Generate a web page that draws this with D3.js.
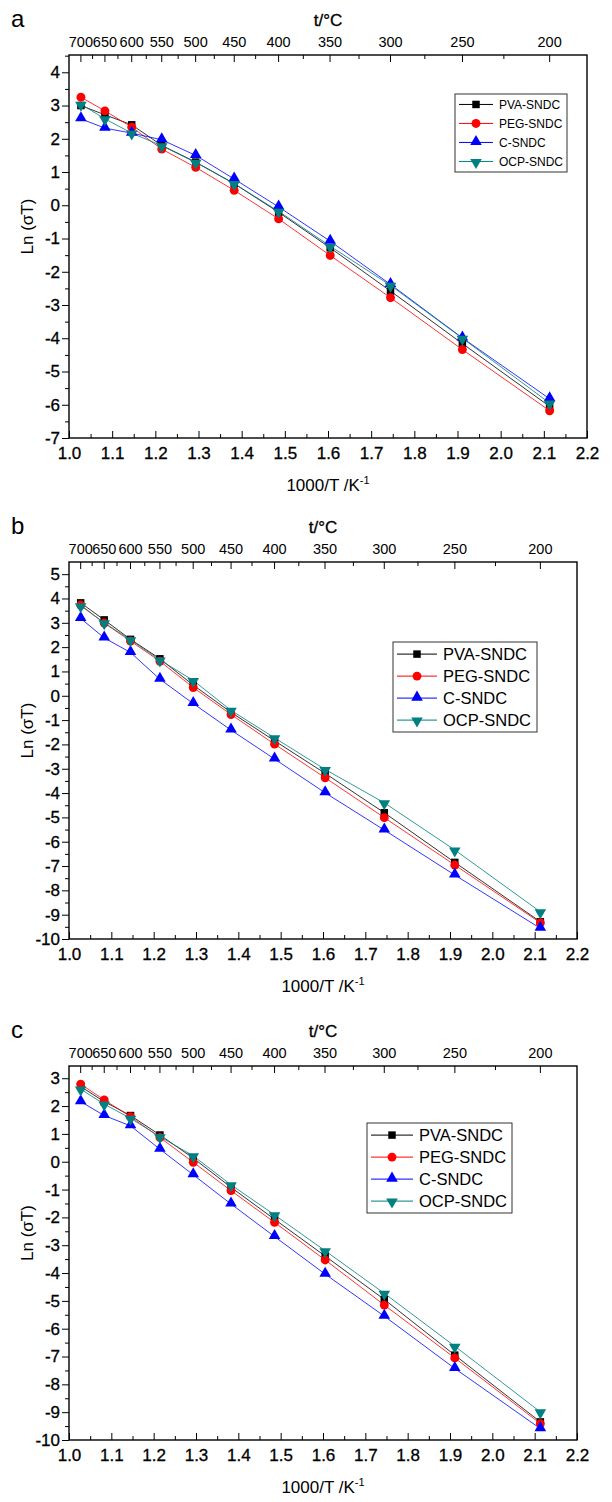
<!DOCTYPE html>
<html>
<head>
<meta charset="utf-8">
<script src="https://cdn.jsdelivr.net/npm/d3@7"></script>
<style>
  body { margin: 0; background: #fff; }
  text { font-family: "Liberation Sans", Arial, sans-serif; fill: #000; }
  .heavy { stroke: #000; stroke-width: 0.3px; }
</style>
</head>
<body>
<svg id="fig" width="612" height="1502"></svg>
<script>
// 1000/T of the measuring temperatures (700 ... 200 °C)
var invT = [1.0276, 1.0832, 1.1453, 1.2148, 1.2935, 1.3827, 1.4856, 1.6051, 1.7448, 1.9113, 2.1134];
var names = ["PVA-SNDC", "PEG-SNDC", "C-SNDC", "OCP-SNDC"];
var colors = ["#000000", "#ff0000", "#0000ff", "#008080"];
var tempLabels = [700, 650, 600, 550, 500, 450, 400, 350, 300, 250, 200];
var tempMinor = [675, 625, 575, 525, 475, 425, 375, 325, 275, 225];

// panel a
var pvaA = [3.00, 2.72, 2.42, 1.80, 1.30, 0.65, -0.21, -1.28, -2.58, -4.16, -6.05];
var pegA = [3.25, 2.84, 2.35, 1.69, 1.14, 0.45, -0.41, -1.51, -2.78, -4.34, -6.18];
var cA   = [2.60, 2.32, 2.17, 1.97, 1.50, 0.79, -0.05, -1.08, -2.38, -3.99, -5.82];
var ocpA = [3.04, 2.60, 2.17, 1.79, 1.29, 0.65, -0.18, -1.23, -2.41, -4.00, -5.95];
// panel b
var pvaB = [3.82, 3.12, 2.32, 1.52, 0.44, -0.68, -1.85, -3.19, -4.81, -6.85, -9.29];
var pegB = [3.73, 2.99, 2.25, 1.42, 0.34, -0.77, -1.99, -3.37, -5.01, -6.96, -9.33];
var cB   = [3.18, 2.38, 1.78, 0.68, -0.32, -1.41, -2.60, -3.99, -5.52, -7.37, -9.56];
var ocpB = [3.70, 3.00, 2.30, 1.47, 0.63, -0.60, -1.73, -3.03, -4.40, -6.34, -8.88];
// panel c
var pvaC = [2.70, 2.16, 1.66, 0.96, 0.13, -0.92, -2.07, -3.39, -4.95, -6.95, -9.35];
var pegC = [2.79, 2.22, 1.62, 0.87, -0.02, -1.04, -2.18, -3.53, -5.15, -7.05, -9.41];
var cC   = [2.16, 1.66, 1.29, 0.45, -0.47, -1.52, -2.69, -4.04, -5.55, -7.43, -9.59];
var ocpC = [2.61, 2.07, 1.56, 0.90, 0.21, -0.83, -1.91, -3.20, -4.73, -6.63, -8.99];

var xTicks = [1.0, 1.1, 1.2, 1.3, 1.4, 1.5, 1.6, 1.7, 1.8, 1.9, 2.0, 2.1, 2.2];

var panels = [
  { letter: "a", series: [pvaA, pegA, cA, ocpA], top: 55, bottom: 438, left: 69, right: 587,
    yMin: -7, yMax: 4.52, leg: { x: 455, y: 94, w: 112, row: 19, font: 12, seg: 34 } },
  { letter: "b", series: [pvaB, pegB, cB, ocpB], top: 562, bottom: 939, left: 69, right: 577,
    yMin: -10, yMax: 5.5, leg: { x: 393, y: 642, w: 144, row: 22, font: 16.5, seg: 40 } },
  { letter: "c", series: [pvaC, pegC, cC, ocpC], top: 1066, bottom: 1440, left: 69, right: 577,
    yMin: -10, yMax: 3.44, leg: { x: 367, y: 1123, w: 145, row: 22, font: 16.5, seg: 42 } }
];

var svg = d3.select("#fig");

var symbolFor = function(i) {
  if (i == 0) return d3.symbol().type(d3.symbolSquare).size(56);
  if (i == 1) return d3.symbol().type(d3.symbolCircle).size(62);
  return d3.symbol().type(d3.symbolTriangle).size(58);
};

var drawMarker = function(g, i, cx, cy) {
  var rot = (i == 3) ? " rotate(180)" : "";
  var dy = (i == 2) ? -0.8 : (i == 3 ? 0.8 : 0);
  g.append("path")
    .attr("d", symbolFor(i)())
    .attr("transform", "translate(" + cx + "," + (cy + dy) + ")" + rot)
    .attr("fill", colors[i]);
};

var drawPanel = function(p) {
  var x = d3.scaleLinear().domain([1.0, 2.2]).range([p.left, p.right]);
  var y = d3.scaleLinear().domain([p.yMin, p.yMax]).range([p.bottom, p.top]);
  var g = svg.append("g");

  var yMajor = d3.range(Math.ceil(p.yMin), Math.floor(p.yMax) + 1);
  var yMinor = yMajor.map(function(d) { return d + 0.5; })
    .filter(function(d) { return d < p.yMax; });

  // left axis, ticks outward
  g.append("g").attr("transform", "translate(" + p.left + ",0)")
    .call(d3.axisLeft(y).tickValues(yMajor).tickSize(7).tickPadding(2)
      .tickFormat(function(d) { return String(d); }));
  g.append("g").attr("transform", "translate(" + p.left + ",0)")
    .call(d3.axisLeft(y).tickValues(yMinor).tickSize(4).tickFormat(""));

  // bottom axis, ticks inward
  g.append("g").attr("transform", "translate(0," + p.bottom + ")")
    .call(d3.axisBottom(x).tickValues(xTicks).tickSize(-7).tickPadding(9)
      .tickFormat(d3.format(".1f")));
  g.append("g").attr("transform", "translate(0," + p.bottom + ")")
    .call(d3.axisBottom(x).tickValues(d3.range(1.05, 2.2, 0.1)).tickSize(-4).tickFormat(""));

  // top axis in °C, ticks inward
  var toX = function(t) { return x(1000 / (t + 273.15)); };
  var top = g.append("g").attr("transform", "translate(0," + p.top + ")");
  tempLabels.forEach(function(t) {
    top.append("line").attr("x1", toX(t)).attr("x2", toX(t)).attr("y1", 0).attr("y2", 7).attr("stroke", "#000");
    top.append("text").attr("x", toX(t)).attr("y", -8).attr("text-anchor", "middle")
      .attr("font-size", 14.5).text(t);
  });
  tempMinor.forEach(function(t) {
    top.append("line").attr("x1", toX(t)).attr("x2", toX(t)).attr("y1", 0).attr("y2", 4).attr("stroke", "#000");
  });

  g.selectAll(".domain").remove();
  g.selectAll(".tick line").attr("stroke", "#000");
  g.selectAll(".tick text").attr("font-size", 17).attr("fill", "#000").classed("heavy", true)
    .attr("font-family", "Liberation Sans, Arial, sans-serif");

  // frame
  g.append("rect").attr("x", p.left).attr("y", p.top)
    .attr("width", p.right - p.left).attr("height", p.bottom - p.top)
    .attr("fill", "none").attr("stroke", "#000").attr("stroke-width", 1.4);

  // series
  var line = d3.line().x(function(d, i) { return x(invT[i]); }).y(function(d) { return y(d); });
  p.series.forEach(function(s, k) {
    g.append("path").datum(s).attr("d", line)
      .attr("fill", "none").attr("stroke", colors[k]).attr("stroke-width", 1).attr("stroke-opacity", 0.8);
  });
  p.series.forEach(function(s, k) {
    s.forEach(function(v, i) { drawMarker(g, k, x(invT[i]), y(v)); });
  });

  // legend
  var L = p.leg;
  var h = L.row * 4 + 2;
  g.append("rect").attr("x", L.x).attr("y", L.y).attr("width", L.w).attr("height", h)
    .attr("fill", "#fff").attr("stroke", "#333").attr("stroke-width", 1);
  names.forEach(function(n, k) {
    var cy = L.y + L.row * 0.55 + k * L.row;
    g.append("line").attr("x1", L.x + 4).attr("x2", L.x + 4 + L.seg).attr("y1", cy).attr("y2", cy)
      .attr("stroke", colors[k]).attr("stroke-width", 1);
    drawMarker(g, k, L.x + 4 + L.seg / 2, cy);
    g.append("text").attr("x", L.x + L.seg + 10).attr("y", cy + L.font * 0.36)
      .attr("font-size", L.font).text(n);
  });

  // labels
  var mid = (p.left + p.right) / 2;
  g.append("text").attr("x", mid).attr("y", p.top - 29).attr("text-anchor", "middle")
    .attr("font-size", 17).attr("class", "heavy").text("t/°C");
  var xt = g.append("text").attr("x", mid).attr("y", p.bottom + 53).attr("text-anchor", "middle")
    .attr("font-size", 17).text("1000/T /K");
  xt.append("tspan").attr("dy", -7).attr("font-size", 11).text("-1");
  var cyT = (p.top + p.bottom) / 2 - 20;
  g.append("text").attr("transform", "translate(33," + cyT + ") rotate(-90)")
    .attr("text-anchor", "middle").attr("font-size", 17).text("Ln (σT)");
  g.append("text").attr("x", 11).attr("y", p.top - 28).attr("font-size", 24).text(p.letter);
};

panels.forEach(drawPanel);
</script>
</body>
</html>
